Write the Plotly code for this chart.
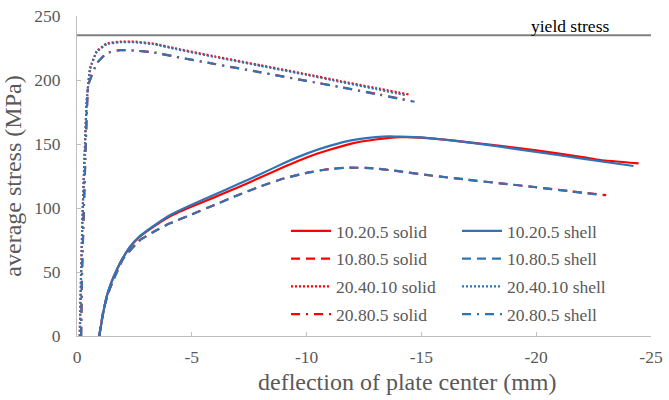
import plotly.graph_objects as go

# ---------------- data ----------------
YIELD_STRESS = 235
YIELD_X = [0, -25]

S1020_SHELL_X = [-0.97, -1.1, -1.29, -1.5, -1.73, -2.0, -2.31, -2.7, -3.18, -4.0, -4.92, -6.0, -7.0, -8.0, -9.0, -10.0, -11.0, -12.0, -13.0, -13.6, -14.07, -15.0, -16.5, -18.43, -20.0, -22.0, -24.24]
S1020_SHELL_Y = [0, 14, 30.7, 42, 51.6, 61, 69.8, 77.5, 84, 94, 102, 110.5, 118.5, 126.5, 135, 142.5, 148.5, 153, 155.3, 156, 155.8, 155.2, 152.5, 147.9, 143.8, 138.6, 132.8]

S1020_SOLID_X = [-0.97, -1.1, -1.29, -1.5, -1.73, -2.0, -2.31, -2.7, -3.18, -4.0, -4.92, -6.0, -7.0, -8.0, -9.0, -10.0, -11.0, -12.0, -13.0, -14.07, -15.0, -16.5, -18.43, -20.0, -22.0, -22.79, -24.46]
S1020_SOLID_Y = [0, 14, 30.7, 42, 51.6, 61, 69.5, 77, 83.5, 93, 100.5, 108.5, 116, 124, 132, 139.5, 145.5, 150.5, 153.5, 155.3, 155, 152.5, 148.5, 145, 139.8, 137.5, 134.8]

S1080_SHELL_X = [-0.97, -1.15, -1.35, -1.58, -2.02, -2.75, -3.4, -4.05, -5.0, -6.0, -7.0, -8.0, -9.0, -10.0, -11.0, -11.8, -12.8, -14.07, -15.5, -17.0, -18.43, -20.0, -21.5, -22.93]
S1080_SHELL_Y = [0, 20, 33, 43.7, 60.7, 75, 82, 88, 95, 102.5, 110, 117, 123, 127.5, 130.5, 131.5, 131.2, 128.6, 125.2, 122.1, 119.3, 116.2, 113, 110]

S1080_SOLID_X = [-0.97, -1.15, -1.35, -1.58, -2.02, -2.75, -3.4, -4.05, -5.0, -6.0, -7.0, -8.0, -9.0, -10.0, -11.0, -11.8, -12.8, -14.07, -15.5, -17.0, -18.43, -20.0, -21.5, -23.05]
S1080_SOLID_Y = [0, 20, 33, 43.7, 60.7, 75, 82, 88, 95, 102.5, 110, 117, 123, 127.5, 130.5, 131.5, 131.2, 128.6, 125.2, 122.1, 119.3, 116.2, 113, 110]

S2040_SHELL_X = [-0.12, -0.18, -0.25, -0.35, -0.42, -0.57, -0.86, -1.29, -1.87, -2.5, -3.32, -4.34, -6.0, -8.0, -10.0, -11.46, -13.0, -14.35]
S2040_SHELL_Y = [0, 50, 100, 150, 183, 209, 222, 228, 229.5, 229.5, 228, 224, 218, 211, 204, 198.6, 193, 188]

S2040_SOLID_X = [-0.12, -0.18, -0.25, -0.35, -0.42, -0.57, -0.86, -1.29, -1.87, -2.5, -3.32, -4.34, -6.0, -8.0, -10.0, -11.46, -13.0, -14.45]
S2040_SOLID_Y = [0, 50, 100, 150, 183, 209, 222.5, 228.5, 230, 230, 228.5, 224.5, 218.5, 211.5, 204.5, 199.2, 193.8, 188.7]

S2080_SHELL_X = [-0.18, -0.22, -0.3, -0.4, -0.49, -0.86, -1.29, -1.87, -2.5, -3.32, -4.34, -6.0, -8.0, -10.0, -11.46, -13.0, -14.7]
S2080_SHELL_Y = [0, 50, 100, 160, 196, 213, 221, 223.4, 223, 221.6, 218, 212.5, 206, 199.3, 194.5, 189, 183]

S2080_SOLID_X = [-0.18, -0.22, -0.3, -0.4, -0.49, -0.86, -1.29, -1.87, -2.5, -3.32, -4.34, -6.0, -8.0, -10.0, -11.46, -13.0, -14.6]
S2080_SOLID_Y = [0, 50, 100, 160, 196, 213, 221, 223.4, 223, 221.6, 218, 212.5, 206, 199.3, 194.5, 189.3, 183.5]

X_TICKS = [0, -5, -10, -15, -20, -25]
X_TICK_LABELS = ["0", "-5", "-10", "-15", "-20", "-25"]
Y_TICKS = [0, 50, 100, 150, 200, 250]

X_TITLE = "deflection of plate center (mm)"
Y_TITLE = "average stress (MPa)"

RED = "#FF0000"
BLUE = "#2E75B6"
FONT = "Times New Roman, Liberation Serif, serif"
GREY_TXT = "#595959"
AXIS_GREY = "#BFBFBF"

DASH = "9px,6px"
DOT = "2px,2px"
DASHDOT = "9px,6px,2px,6px"

series = [
    ("10.20.5 solid", S1020_SOLID_X, S1020_SOLID_Y, RED, "solid", "legend"),
    ("10.80.5 solid", S1080_SOLID_X, S1080_SOLID_Y, RED, DASH, "legend"),
    ("20.40.10 solid", S2040_SOLID_X, S2040_SOLID_Y, RED, DOT, "legend"),
    ("20.80.5 solid", S2080_SOLID_X, S2080_SOLID_Y, RED, DASHDOT, "legend"),
    ("10.20.5 shell", S1020_SHELL_X, S1020_SHELL_Y, BLUE, "solid", "legend2"),
    ("10.80.5 shell", S1080_SHELL_X, S1080_SHELL_Y, BLUE, DASH, "legend2"),
    ("20.40.10 shell", S2040_SHELL_X, S2040_SHELL_Y, BLUE, DOT, "legend2"),
    ("20.80.5 shell", S2080_SHELL_X, S2080_SHELL_Y, BLUE, DASHDOT, "legend2"),
]

fig = go.Figure()

fig.add_trace(go.Scatter(
    x=YIELD_X, y=[YIELD_STRESS] * len(YIELD_X), mode="lines",
    line=dict(color="#808080", width=2), showlegend=False, hoverinfo="skip"))

for name, xs, ys, col, dash, lg in series:
    fig.add_trace(go.Scatter(
        x=xs, y=ys, mode="lines", name=name, legend=lg, legendgroup=name,
        line=dict(color=col, width=2.2, dash=dash, shape="spline", smoothing=0.3)))

fig.add_annotation(
    x=-21.46, y=YIELD_STRESS, xref="x", yref="y", text="yield stress",
    showarrow=False, yanchor="bottom", yshift=-3,
    font=dict(family=FONT, size=17.5, color="#000000"))

# x-axis title (placed as in the original, right of centre)
fig.add_annotation(
    x=(407 - 77) / 574, y=(336 - 382) / 320, xref="paper", yref="paper",
    text=X_TITLE, showarrow=False, xanchor="center", yanchor="middle",
    font=dict(family=FONT, size=24, color=GREY_TXT))

legend_common = dict(
    font=dict(family=FONT, size=17.5, color=GREY_TXT),
    bgcolor="rgba(0,0,0,0)", borderwidth=0,
    orientation="v", traceorder="grouped", tracegroupgap=2,
    itemwidth=40, xanchor="left", yanchor="top",
)

fig.update_layout(
    width=669, height=400,
    margin=dict(l=77, r=18, t=16, b=64, autoexpand=False),
    paper_bgcolor="white", plot_bgcolor="white",
    font=dict(family=FONT, color=GREY_TXT),
    legend=dict(x=(286 - 77) / 574, y=(336 - 213) / 320, **legend_common),
    legend2=dict(x=(457 - 77) / 574, y=(336 - 213) / 320, **legend_common),
    xaxis=dict(
        range=[0, -25], tickvals=X_TICKS, ticktext=X_TICK_LABELS, automargin=False,
        showgrid=False, zeroline=False, showline=True, linecolor=AXIS_GREY, linewidth=1,
        ticks="inside", ticklen=4, tickcolor=AXIS_GREY,
        tickfont=dict(family=FONT, size=17.5, color=GREY_TXT),
        ticklabelstandoff=5,
    ),
    yaxis=dict(
        range=[0, 250], tickvals=Y_TICKS, automargin=False,
        showgrid=False, zeroline=False, showline=True, linecolor=AXIS_GREY, linewidth=1,
        ticks="inside", ticklen=4, tickcolor=AXIS_GREY,
        tickfont=dict(family=FONT, size=17.5, color=GREY_TXT),
        ticklabelstandoff=12,
        title=dict(text=Y_TITLE,
                   font=dict(family=FONT, size=24, color=GREY_TXT), standoff=6),
    ),
)

fig.write_html("out.html")
